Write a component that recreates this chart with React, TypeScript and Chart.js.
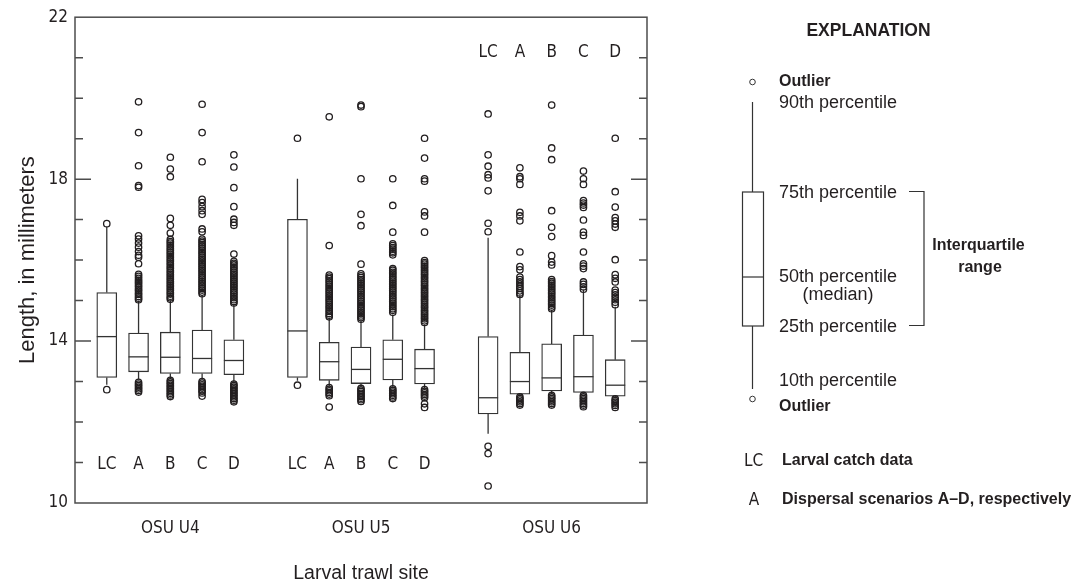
import React, { useEffect, useRef } from 'react';
import { Chart, registerables } from 'chart.js';
Chart.register(...registerables);

// ---------- data ----------
const sites = ['OSU U4', 'OSU U5', 'OSU U6'];
const sitePositions = [3, 9, 15];
const boxLabels = ['LC', 'A', 'B', 'C', 'D'];
const positions = [1, 2, 3, 4, 5, 7, 8, 9, 10, 11, 13, 14, 15, 16, 17];
const yTickValues = [10, 14, 18, 22];

const p10 = [12.92, 13.05, 13.07, 13.05, 12.97, 13.02, 12.88, 12.86, 12.87, 12.83, 11.71, 12.64, 12.69, 12.70, 12.60];
const q1 = [13.10, 13.24, 13.20, 13.20, 13.17, 13.10, 13.03, 12.95, 13.04, 12.94, 12.20, 12.69, 12.77, 12.73, 12.64];
const median = [14.11, 13.61, 13.60, 13.57, 13.52, 14.25, 13.49, 13.30, 13.55, 13.32, 12.60, 13.00, 13.09, 13.12, 12.91];
const q3 = [15.20, 14.20, 14.22, 14.27, 14.03, 17.01, 13.97, 13.85, 14.03, 13.80, 14.11, 13.72, 13.93, 14.15, 13.54];
const p90 = [16.82, 14.97, 15.00, 15.14, 14.90, 18.01, 14.56, 14.50, 14.65, 14.40, 16.55, 15.13, 14.77, 15.26, 14.85];

const outU4LC = [16.90, 12.80];
const outU4A = [19.91, 19.15, 18.33, 17.84, 17.80, 16.60, 16.52, 16.42, 16.32, 16.21, 16.12, 16.07, 15.91, 15.65, 15.60, 15.55, 15.50, 15.46, 15.42, 15.37, 15.33, 15.28, 15.24, 15.19, 15.15, 15.10, 15.06, 15.02, 12.98, 12.94, 12.90, 12.86, 12.82, 12.78, 12.74];
const outU4B = [18.54, 18.25, 18.06, 17.03, 16.86, 16.67, 16.51, 16.46, 16.42, 16.37, 16.33, 16.28, 16.24, 16.19, 16.15, 16.10, 16.06, 16.01, 15.97, 15.92, 15.88, 15.83, 15.79, 15.74, 15.70, 15.65, 15.61, 15.56, 15.52, 15.47, 15.43, 15.38, 15.34, 15.29, 15.25, 15.20, 15.16, 15.11, 15.07, 15.03, 13.03, 12.99, 12.95, 12.91, 12.87, 12.83, 12.79, 12.75, 12.71, 12.67, 12.63];
const outU4C = [19.85, 19.15, 18.43, 17.50, 17.42, 17.32, 17.22, 17.13, 16.77, 16.70, 16.52, 16.47, 16.43, 16.38, 16.34, 16.29, 16.25, 16.20, 16.16, 16.11, 16.07, 16.02, 15.98, 15.93, 15.89, 15.84, 15.80, 15.75, 15.71, 15.66, 15.62, 15.57, 15.53, 15.48, 15.44, 15.39, 15.35, 15.30, 15.26, 15.21, 15.17, 13.00, 12.96, 12.92, 12.88, 12.84, 12.80, 12.76, 12.72, 12.64];
const outU4D = [18.60, 18.30, 17.79, 17.32, 17.01, 16.93, 16.86, 16.15, 15.97, 15.92, 15.88, 15.83, 15.79, 15.74, 15.70, 15.65, 15.61, 15.56, 15.52, 15.47, 15.43, 15.38, 15.34, 15.29, 15.25, 15.20, 15.16, 15.11, 15.07, 15.02, 14.98, 14.94, 12.94, 12.90, 12.86, 12.82, 12.78, 12.74, 12.70, 12.66, 12.62, 12.58, 12.54, 12.50];
const outU5LC = [19.01, 12.91];
const outU5A = [19.54, 16.36, 15.63, 15.58, 15.54, 15.49, 15.45, 15.40, 15.36, 15.31, 15.27, 15.22, 15.18, 15.13, 15.09, 15.04, 15.00, 14.95, 14.91, 14.86, 14.82, 14.77, 14.73, 14.68, 14.64, 14.60, 12.85, 12.81, 12.77, 12.73, 12.69, 12.65, 12.37];
const outU5B = [19.83, 19.79, 18.01, 17.13, 16.85, 15.90, 15.66, 15.61, 15.57, 15.52, 15.48, 15.43, 15.39, 15.34, 15.30, 15.25, 15.21, 15.16, 15.12, 15.07, 15.03, 14.98, 14.94, 14.89, 14.85, 14.80, 14.76, 14.71, 14.67, 14.62, 14.58, 14.54, 12.83, 12.79, 12.75, 12.71, 12.67, 12.63, 12.59, 12.55, 12.51];
const outU5C = [18.01, 17.35, 16.69, 16.40, 16.36, 16.31, 16.27, 16.22, 16.18, 16.13, 15.79, 15.75, 15.70, 15.66, 15.61, 15.57, 15.52, 15.48, 15.43, 15.39, 15.34, 15.30, 15.25, 15.21, 15.16, 15.12, 15.07, 15.03, 14.98, 14.94, 14.89, 14.85, 14.80, 14.76, 14.71, 12.82, 12.78, 12.74, 12.70, 12.66, 12.62, 12.58];
const outU5D = [19.01, 18.52, 18.01, 17.95, 17.19, 17.09, 16.69, 15.99, 15.94, 15.90, 15.85, 15.81, 15.76, 15.72, 15.67, 15.63, 15.58, 15.54, 15.49, 15.45, 15.40, 15.36, 15.31, 15.27, 15.22, 15.18, 15.13, 15.09, 15.04, 15.00, 14.95, 14.91, 14.86, 14.82, 14.77, 14.73, 14.68, 14.64, 14.59, 14.55, 14.50, 14.46, 12.80, 12.76, 12.72, 12.68, 12.64, 12.60, 12.45, 12.36];
const outU6LC = [19.61, 18.60, 18.32, 18.11, 18.03, 17.71, 16.91, 16.70, 11.40, 11.22, 10.42];
const outU6A = [18.28, 18.06, 18.01, 17.87, 17.18, 17.09, 16.97, 16.20, 15.84, 15.76, 15.58, 15.52, 15.46, 15.41, 15.35, 15.30, 15.24, 15.19, 15.15, 12.62, 12.58, 12.54, 12.50, 12.46, 12.42];
const outU6B = [19.83, 18.77, 18.48, 17.22, 16.81, 16.58, 16.11, 15.95, 15.88, 15.52, 15.47, 15.43, 15.38, 15.34, 15.29, 15.25, 15.20, 15.16, 15.11, 15.07, 15.02, 14.98, 14.93, 14.89, 14.84, 14.80, 12.66, 12.62, 12.58, 12.54, 12.50, 12.46, 12.42];
const outU6C = [18.20, 18.01, 17.87, 17.47, 17.41, 17.36, 17.30, 16.99, 16.69, 16.61, 16.20, 15.91, 15.85, 15.79, 15.46, 15.40, 15.34, 15.28, 12.66, 12.62, 12.58, 12.54, 12.50, 12.46, 12.42, 12.38];
const outU6D = [19.01, 17.69, 17.31, 17.05, 16.97, 16.89, 16.81, 16.01, 15.64, 15.55, 15.46, 15.26, 15.20, 15.14, 15.08, 15.02, 14.96, 14.90, 12.57, 12.53, 12.49, 12.45, 12.41, 12.36];

const outliers = [outU4LC, outU4A, outU4B, outU4C, outU4D, outU5LC, outU5A, outU5B, outU5C, outU5D, outU6LC, outU6A, outU6B, outU6C, outU6D];

// ---------- styles ----------
const FONT = "'Liberation Sans', Arial, sans-serif";
const NARROW = "'Liberation Sans Narrow', 'DejaVu Sans Condensed', 'Liberation Sans', Arial, sans-serif";
const INK = '#231f20';
const LINE = '#333333';

const extrasPlugin = {
  id: 'boxExtras',
  afterDatasetsDraw(chart: any) {
    const { ctx, chartArea: a, scales } = chart;
    const xs = scales.x;
    const ys = scales.y;
    ctx.save();
    // medians
    ctx.strokeStyle = LINE;
    ctx.lineWidth = 1.3;
    positions.forEach((p, i) => {
      const cx = xs.getPixelForValue(p);
      const my = ys.getPixelForValue(median[i]);
      ctx.beginPath();
      ctx.moveTo(cx - 10, my);
      ctx.lineTo(cx + 10, my);
      ctx.stroke();
    });
    // frame
    ctx.strokeStyle = '#4d4d4d';
    ctx.lineWidth = 1.5;
    ctx.strokeRect(a.left, a.top, a.right - a.left, a.bottom - a.top);
    // inside ticks
    ys.ticks.forEach((t: any) => {
      const v = t.value;
      if (v <= ys.min || v >= ys.max) return;
      const py = ys.getPixelForValue(v);
      const len = yTickValues.includes(v) ? 16 : 8;
      ctx.beginPath();
      ctx.moveTo(a.left, py);
      ctx.lineTo(a.left + len, py);
      ctx.moveTo(a.right - len, py);
      ctx.lineTo(a.right, py);
      ctx.stroke();
    });
    // box letters
    ctx.fillStyle = INK;
    ctx.font = `17px ${NARROW}`;
    ctx.textAlign = 'center';
    ctx.textBaseline = 'middle';
    positions.forEach((p, i) => {
      const g = Math.floor(i / 5);
      const ly = g === 2 ? a.top + 35.5 : a.bottom - 38;
      ctx.fillText(boxLabels[i % 5], xs.getPixelForValue(p), ly);
    });
    ctx.restore();
  },
};

const legendPlugin = {
  id: 'explanation',
  afterDraw(chart: any) {
    const { ctx } = chart;
    ctx.save();
    ctx.fillStyle = INK;
    ctx.strokeStyle = LINE;
    ctx.textBaseline = 'alphabetic';

    const text = (s: string, x: number, y: number, font: string, align: CanvasTextAlign = 'left') => {
      ctx.font = font;
      ctx.textAlign = align;
      ctx.fillText(s, x, y);
    };
    const seg = (x1: number, y1: number, x2: number, y2: number) => {
      ctx.beginPath();
      ctx.moveTo(x1, y1);
      ctx.lineTo(x2, y2);
      ctx.stroke();
    };

    text('EXPLANATION', 868.5, 36, `bold 17.5px ${FONT}`, 'center');

    // sample box
    ctx.lineWidth = 1.2;
    const cx = 752.5;
    ctx.strokeRect(742.5, 192, 21, 134);
    seg(742.5, 277, 763.5, 277);
    seg(cx, 102, cx, 192);
    seg(cx, 326, cx, 389);
    ctx.lineWidth = 1;
    ctx.beginPath();
    ctx.arc(cx, 82, 2.8, 0, Math.PI * 2);
    ctx.stroke();
    ctx.beginPath();
    ctx.arc(cx, 399, 2.8, 0, Math.PI * 2);
    ctx.stroke();

    const bold = `bold 16px ${FONT}`;
    const reg = `18px ${FONT}`;
    text('Outlier', 779, 86, bold);
    text('90th percentile', 779, 108, reg);
    text('75th percentile', 779, 198, reg);
    text('50th percentile', 779, 282, reg);
    text('(median)', 838, 300, reg, 'center');
    text('25th percentile', 779, 331.5, reg);
    text('10th percentile', 779, 386, reg);
    text('Outlier', 779, 410.5, bold);

    // bracket
    ctx.lineWidth = 1.2;
    ctx.beginPath();
    ctx.moveTo(909, 191.5);
    ctx.lineTo(924, 191.5);
    ctx.lineTo(924, 325.5);
    ctx.lineTo(909, 325.5);
    ctx.stroke();
    text('Interquartile', 978.5, 250, bold, 'center');
    text('range', 980, 272, bold, 'center');

    text('LC', 753.5, 466, `17px ${NARROW}`, 'center');
    text('Larval catch data', 782, 465, bold);
    text('A', 754, 505, `17px ${NARROW}`, 'center');
    text('Dispersal scenarios A\u2013D, respectively', 782, 504, bold);
    ctx.restore();
  },
};

export default function App() {
  const ref = useRef<HTMLCanvasElement>(null);
  useEffect(() => {
    document.body.style.margin = '0';
    Chart.defaults.font.family = FONT;
    Chart.defaults.color = INK;
    const boxData = positions.map((p, i) => ({ x: p, y: [q1[i], q3[i]] }));
    const whiskerData: any[] = [];
    positions.forEach((p, i) => {
      whiskerData.push({ x: p, y: q3[i] }, { x: p, y: p90[i] }, { x: p, y: null });
      whiskerData.push({ x: p, y: q1[i] }, { x: p, y: p10[i] }, { x: p, y: null });
    });
    const outlierData: any[] = [];
    positions.forEach((p, i) => outliers[i].forEach((v) => outlierData.push({ x: p, y: v })));

    const chart = new Chart(ref.current as HTMLCanvasElement, {
      type: 'bar',
      data: {
        datasets: [
          {
            type: 'line',
            label: 'Outliers',
            data: outlierData,
            showLine: false,
            pointRadius: 3.2,
            pointBorderWidth: 1.3,
            pointBackgroundColor: 'rgba(0,0,0,0)',
            pointBorderColor: INK,
          } as any,
          {
            type: 'bar',
            label: 'Interquartile range',
            data: boxData,
            backgroundColor: '#ffffff',
            borderColor: LINE,
            borderWidth: 1.3,
            borderSkipped: false,
            barThickness: 20,
            grouped: false,
          } as any,
          {
            type: 'line',
            label: 'Whiskers',
            data: whiskerData,
            borderColor: LINE,
            borderWidth: 1.3,
            pointRadius: 0,
            spanGaps: false,
            fill: false,
          } as any,
        ],
      },
      options: {
        animation: false,
        responsive: true,
        maintainAspectRatio: false,
        events: [],
        layout: { padding: { top: 13, right: 425, bottom: 0, left: 0 } },
        plugins: { legend: { display: false }, tooltip: { enabled: false } },
        scales: {
          x: {
            type: 'linear',
            min: 0,
            max: 18,
            offset: false,
            grid: { display: false, drawTicks: false },
            border: { display: false },
            afterBuildTicks: (ax: any) => {
              ax.ticks = sitePositions.map((v) => ({ value: v }));
            },
            afterFit: (s: any) => {
              s.height = 80;
            },
            ticks: {
              autoSkip: false,
              maxRotation: 0,
              padding: 15,
              color: INK,
              font: { family: NARROW, size: 17 },
              callback: (v: any) => {
                const k = sitePositions.indexOf(Number(v));
                return k >= 0 ? sites[k] : '';
              },
            },
            title: {
              display: true,
              text: 'Larval trawl site',
              color: INK,
              font: { family: FONT, size: 19.5, lineHeight: 1 },
              padding: { top: 0, bottom: 0 },
            },
          } as any,
          y: {
            type: 'linear',
            min: 10,
            max: 22,
            grid: { display: false, drawTicks: false },
            border: { display: false },
            afterFit: (s: any) => {
              s.width = 75;
            },
            ticks: {
              stepSize: 1,
              autoSkip: false,
              padding: 7,
              color: INK,
              font: { family: NARROW, size: 17 },
              callback: (v: any) => (yTickValues.includes(Number(v)) ? String(v) : ''),
            },
            title: {
              display: true,
              text: 'Length, in millimeters',
              color: INK,
              font: { family: FONT, size: 22, lineHeight: 1 },
              padding: { top: 17, bottom: 0 },
            },
          } as any,
        },
      },
      plugins: [extrasPlugin, legendPlugin],
    } as any);
    return () => chart.destroy();
  }, []);
  return (
    <div style={{ position: 'fixed', left: 0, top: 0, width: 1072, height: 583, background: '#ffffff' }}>
      <canvas ref={ref} />
    </div>
  );
}
